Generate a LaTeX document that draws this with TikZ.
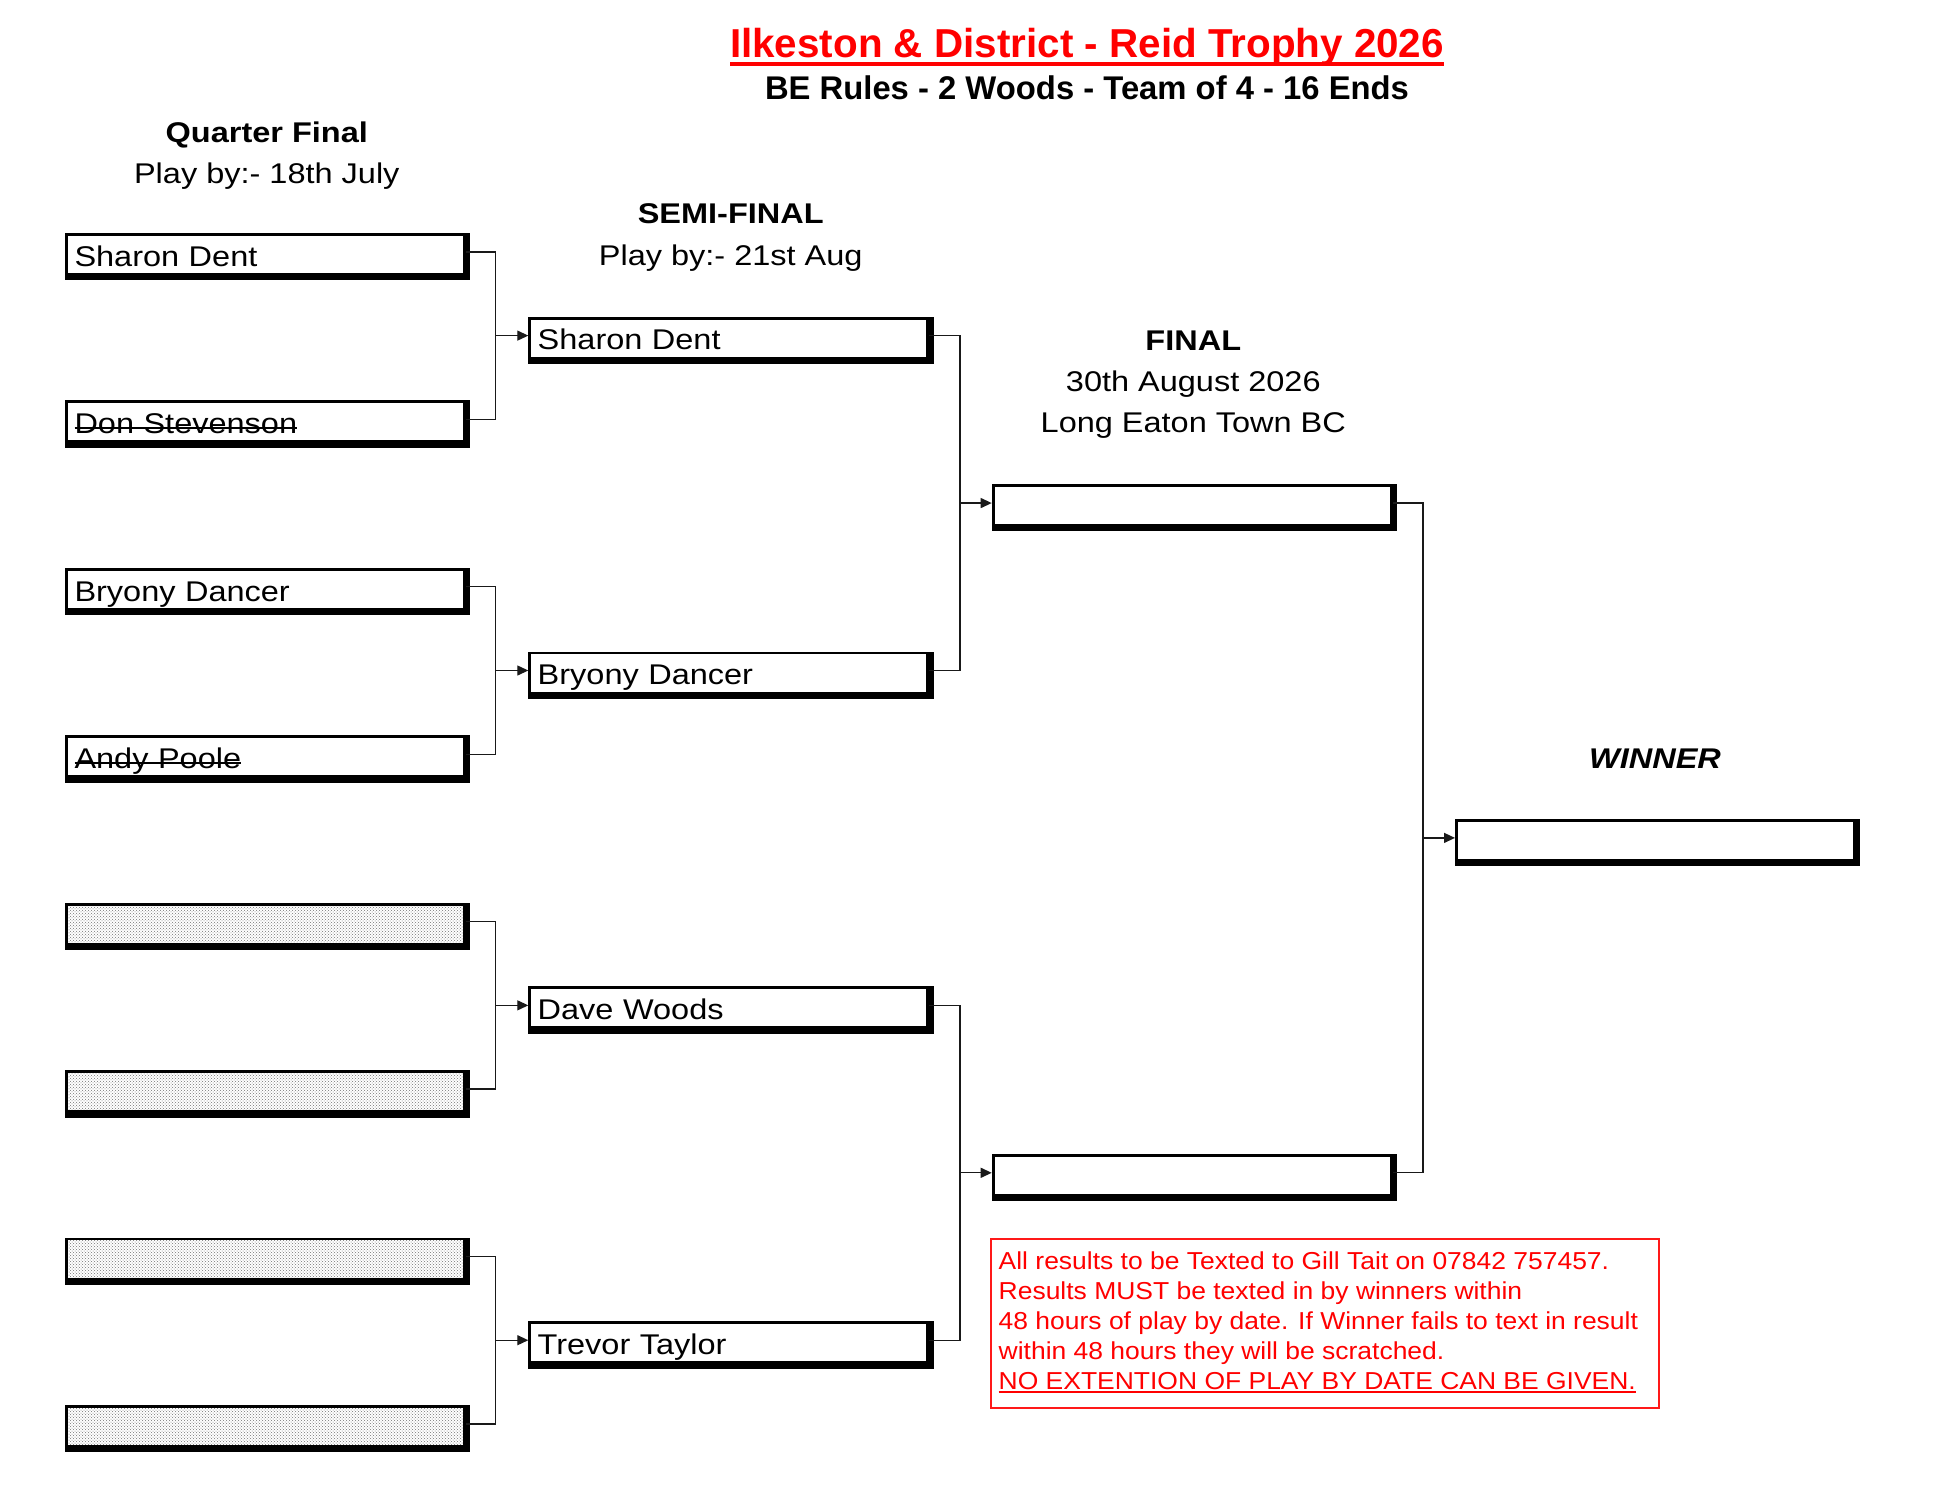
\documentclass[tikz,border=0pt]{standalone}
\usepackage{fontspec}
\setmainfont{Liberation Sans}
\newfontfamily\wfont[FakeStretch=1.14]{Liberation Sans}
\newfontfamily\notefont[FakeStretch=1.08]{Liberation Sans}
\usetikzlibrary{arrows.meta,patterns}
\newcommand\strk[1]{\setbox0\hbox{#1}\rlap{\rule[5pt]{\wd0}{2pt}}\box0}
\newcommand\ulinex[3]{\setbox0\hbox{#3}\rlap{\rule[#1]{\wd0}{#2}}\box0}
\newcommand\nmfont{\wfont\fontsize{28.5}{34}\selectfont}
\newcommand\hdfont{\wfont\fontsize{28.5}{34}\selectfont}
\newcommand\ntfont{\notefont\fontsize{24.5}{30}\selectfont}
\tikzset{
  box/.style={draw=black, line width=2.8pt, fill=white,
    minimum width=398pt, minimum height=40pt, inner xsep=8pt, inner ysep=0pt,
    text width=382pt, align=left, text height=26pt, text depth=2.4pt, font=\nmfont},
  pbox/.style={box, preaction={fill=white}, pattern=crosshatch dots, pattern color=black!55},
  hd/.style={anchor=base, inner sep=0pt, font=\hdfont},
  nt/.style={anchor=base west, inner sep=0pt, font=\ntfont, text=red},
  conn/.style={line width=1.3pt, draw=black!90},
  arr/.style={conn, -{Triangle[length=11pt,width=10pt]}}
}
\begin{document}
\begin{tikzpicture}[x=1pt,y=-1pt]
\useasboundingbox (0,0) rectangle (1937,1494);

% titles
\node[anchor=base, inner sep=0pt, text=red, font=\bfseries\fontsize{40.4}{48}\selectfont] (title) at (1087,57.7)
  {\ulinex{-7.8pt}{3.6pt}{Ilkeston \& District - Reid Trophy 2026}};
\node[anchor=base, inner sep=0pt, font=\bfseries\fontsize{32.8}{38}\selectfont] (sub) at (1087,99)
  {BE Rules - 2 Woods - Team of 4 - 16 Ends};

% round headings
\node[hd, font=\hdfont\bfseries] (qfh) at (266.8,142.4) {Quarter Final};
\node[hd] (qfd) at (266.8,183.2) {Play by:- 18th July};
\node[hd, font=\hdfont\bfseries] (sfh) at (730.7,223.9) {SEMI-FINAL};
\node[hd] (sfd) at (730.7,265.9) {Play by:- 21st Aug};
\node[hd, font=\hdfont\bfseries] (fh) at (1193.3,350) {FINAL};
\node[hd] (fd) at (1193.3,391) {30th August 2026};
\node[hd] (fv) at (1193.3,432) {Long Eaton Town BC};
\node[hd, font=\hdfont\bfseries\itshape] (wh) at (1655,768.7) {WINNER};

% quarter final boxes
\node[box] (q1) at (265.5,254.4) {Sharon Dent};
\node[box] (q2) at (265.5,421.8) {\strk{Don Stevenson}};
\node[box] (q3) at (265.5,589.3) {Bryony Dancer};
\node[box] (q4) at (265.5,756.7) {\strk{Andy Poole}};
\node[pbox] (q5) at (265.5,924.1) {};
\node[pbox] (q6) at (265.5,1091.6) {};
\node[pbox] (q7) at (265.5,1259.0) {};
\node[pbox] (q8) at (265.5,1426.4) {};

% semi final boxes
\node[box] (s1) at (728.7,338.1) {Sharon Dent};
\node[box] (s2) at (728.7,673.0) {Bryony Dancer};
\node[box] (s3) at (728.7,1007.85) {Dave Woods};
\node[box] (s4) at (728.7,1342.7) {Trevor Taylor};

% final boxes
\node[box] (f1) at (1192.1,505.55) {};
\node[box] (f2) at (1192.1,1175.3) {};

% winner
\node[box] (w) at (1655.4,840.4) {};

% thick right and bottom edges
\foreach \n in {q1,q2,q3,q4,q5,q6,q7,q8,s1,s2,s3,s4,f1,f2,w}{
  \fill[black] (\n.south west) rectangle ([shift={(4.5pt,-4.5pt)}]\n.south east);
  \fill[black] (\n.north east) rectangle ([shift={(4.5pt,-4.5pt)}]\n.south east);
}

\coordinate (v1) at (495.5,0);
\coordinate (v2) at (960,0);
\coordinate (v3) at (1423,0);

\begin{scope}[transform canvas={yshift=2.5pt}]
\draw[conn] (q1.east) -| (v1 |- q2.east) -- (q2.east);
\draw[arr] (v1 |- s1.west) -- (s1.west);
\draw[conn] (q3.east) -| (v1 |- q4.east) -- (q4.east);
\draw[arr] (v1 |- s2.west) -- (s2.west);
\draw[conn] (q5.east) -| (v1 |- q6.east) -- (q6.east);
\draw[arr] (v1 |- s3.west) -- (s3.west);
\draw[conn] (q7.east) -| (v1 |- q8.east) -- (q8.east);
\draw[arr] (v1 |- s4.west) -- (s4.west);
\draw[conn] (s1.east) -| (v2 |- s2.east) -- (s2.east);
\draw[arr] (v2 |- f1.west) -- (f1.west);
\draw[conn] (s3.east) -| (v2 |- s4.east) -- (s4.east);
\draw[arr] (v2 |- f2.west) -- (f2.west);
\draw[conn] (f1.east) -| (v3 |- f2.east) -- (f2.east);
\draw[arr] (v3 |- w.west) -- (w.west);
\end{scope}

% note
\node[draw=red!90, line width=1.8pt, minimum width=668pt, minimum height=169pt, inner sep=0pt] (note) at (1325,1323.5) {};
\node[nt] (n1) at (998.5,1269) {All results to be Texted to Gill Tait on 07842 757457.};
\node[nt] (n2) at (998.5,1299) {Results MUST be texted in by winners within};
\node[nt] (n3) at (998.5,1329) {48 hours of play by date. If Winner fails to text in result};
\node[nt] (n4) at (998.5,1359) {within 48 hours they will be scratched.};
\node[nt] (n5) at (998.5,1389) {\ulinex{-3.5pt}{2pt}{NO EXTENTION OF PLAY BY DATE CAN BE GIVEN.}};
\end{tikzpicture}
\end{document}
